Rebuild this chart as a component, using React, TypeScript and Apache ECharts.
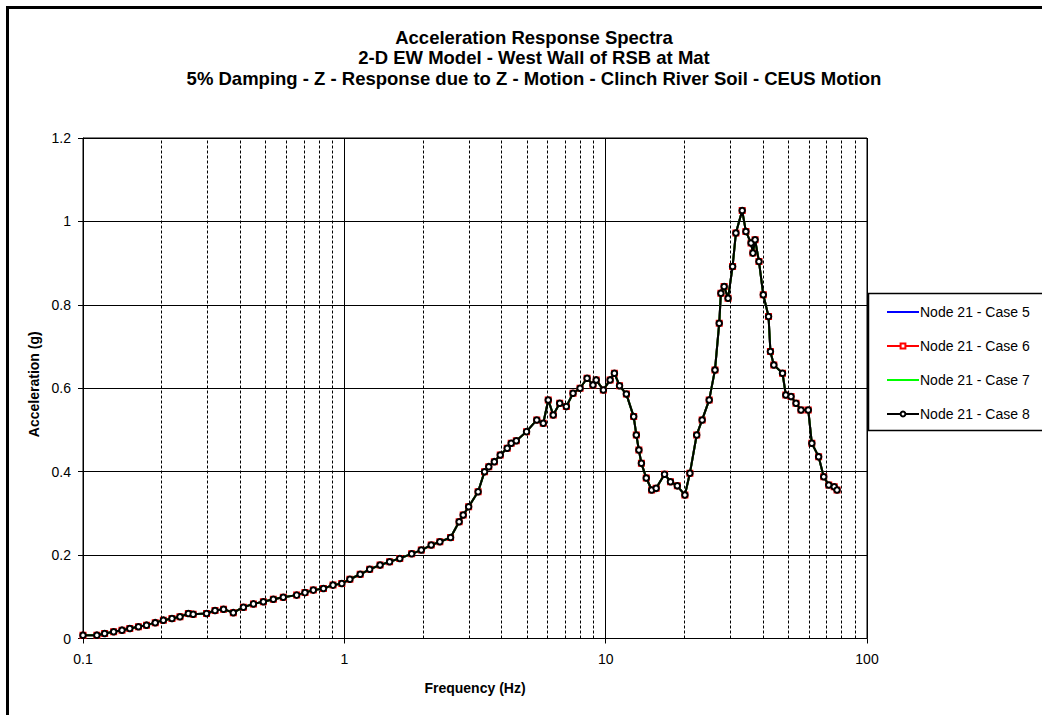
import React, { useEffect, useRef } from "react";
import * as echarts from "echarts";

const titleLines = [
  "Acceleration Response Spectra",
  "2-D EW Model - West Wall of RSB at Mat",
  "5% Damping - Z - Response due to Z - Motion - Clinch River Soil - CEUS Motion",
];
const xAxisName = "Frequency (Hz)";
const yAxisName = "Acceleration (g)";
const seriesNames = ["Node 21 - Case 5", "Node 21 - Case 6", "Node 21 - Case 7", "Node 21 - Case 8"];
const seriesColors = ["#0000ff", "#ff0000", "#00ff00", "#000000"];

// frequency (Hz)
const freqs = [
  0.1, 0.113, 0.121, 0.131, 0.141, 0.151, 0.163, 0.175, 0.189, 0.203, 0.219, 0.235, 0.253, 0.264,
  0.297, 0.32, 0.345, 0.376, 0.411, 0.449, 0.49, 0.535, 0.584, 0.657, 0.707, 0.761, 0.832, 0.905,
  0.978, 1.05, 1.15, 1.25, 1.37, 1.49, 1.63, 1.81, 1.97, 2.15, 2.32, 2.55, 2.75, 2.85, 2.99, 3.25,
  3.44, 3.57, 3.75, 3.95, 4.2, 4.35, 4.55, 4.98, 5.45, 5.77, 6.03, 6.3, 6.67, 7.07, 7.5, 7.98, 8.49,
  8.94, 9.2, 9.8, 10.4, 10.8, 11.3, 12.0, 12.8, 13.1, 13.4, 13.7, 14.3, 15.0, 15.6, 16.8, 17.7,
  18.8, 20.1, 21.0, 22.3, 23.4, 24.9, 26.2, 27.2, 27.6, 28.4, 29.4, 30.6, 31.5, 33.3, 34.4, 36.0,
  36.6, 37.3, 38.6, 40.1, 42.0, 42.7, 44.0, 47.5, 48.9, 51.2, 53.5, 55.9, 59.6, 61.5, 65.3, 68.3,
  71.4, 74.9, 76.8,
];
// acceleration (g), same for all four cases
const accel = [
  0.008, 0.008, 0.012, 0.016, 0.02, 0.024, 0.028, 0.032, 0.038, 0.044, 0.048, 0.052, 0.06, 0.058,
  0.06, 0.067, 0.07, 0.062, 0.075, 0.083, 0.088, 0.094, 0.099, 0.104, 0.11, 0.116, 0.12, 0.128,
  0.132, 0.142, 0.154, 0.166, 0.176, 0.184, 0.192, 0.203, 0.212, 0.224, 0.232, 0.242, 0.28, 0.296,
  0.316, 0.352, 0.4, 0.412, 0.424, 0.44, 0.456, 0.468, 0.474, 0.496, 0.524, 0.516, 0.572, 0.536,
  0.564, 0.556, 0.588, 0.6, 0.624, 0.608, 0.62, 0.596, 0.62, 0.636, 0.606, 0.586, 0.532, 0.488,
  0.452, 0.42, 0.385, 0.356, 0.36, 0.394, 0.376, 0.366, 0.344, 0.396, 0.488, 0.524, 0.572, 0.644,
  0.756, 0.828, 0.844, 0.816, 0.892, 0.972, 1.026, 0.976, 0.948, 0.924, 0.956, 0.904, 0.824, 0.772,
  0.688, 0.656, 0.636, 0.584, 0.58, 0.564, 0.548, 0.548, 0.468, 0.436, 0.388, 0.368, 0.364, 0.356,
];

const minorFreqLines = [
  0.2, 0.3, 0.4, 0.5, 0.6, 0.7, 0.8, 0.9, 2, 3, 4, 5, 6, 7, 8, 9, 20, 30, 40, 50, 60, 70, 80, 90,
];

const FONT = "'Liberation Sans', Arial, sans-serif";

export default function App() {
  const ref = useRef<HTMLDivElement>(null);

  useEffect(() => {
    if (!ref.current) return;
    const chart = echarts.init(ref.current, null, { renderer: "svg" });
    const data = freqs.map((f, i) => [f, accel[i]]);

    const symbols = ["circle", "emptyRect", "circle", "emptyCircle"];
    const sizes = [0, 5, 0, 5.5];

    const series: any[] = seriesNames.map((name, i) => ({
      name,
      type: "line",
      data,
      symbol: symbols[i],
      symbolSize: sizes[i],
      showSymbol: sizes[i] > 0,
      lineStyle: { color: seriesColors[i], width: 2 },
      itemStyle: { color: seriesColors[i], borderWidth: i === 3 ? 1.5 : 1 },
      z: 2 + i,
      silent: true,
    }));

    series[0].markLine = {
      silent: true,
      symbol: ["none", "none"],
      label: { show: false },
      lineStyle: { color: "#000", width: 1, type: [3, 2] },
      data: minorFreqLines.map((v) => ({ xAxis: v })),
    };

    chart.setOption({
      animation: false,
      backgroundColor: "#fff",
      textStyle: { fontFamily: FONT },
      title: {
        text: titleLines.join("\n"),
        left: 529,
        top: 22,
        textAlign: "center",
        textStyle: {
          fontFamily: FONT,
          fontSize: 18.5,
          fontWeight: "bold",
          color: "#000",
          lineHeight: 20.5,
        },
      },
      grid: {
        left: 83,
        top: 138,
        width: 784,
        height: 500.5,
        show: true,
        borderColor: "#000",
        borderWidth: 1,
        containLabel: false,
      },
      xAxis: {
        type: "log",
        logBase: 10,
        min: 0.1,
        max: 100,
        name: xAxisName,
        nameLocation: "middle",
        nameGap: 42,
        nameTextStyle: { fontFamily: FONT, fontSize: 14, fontWeight: "bold", color: "#000" },
        axisLine: { show: true, lineStyle: { color: "#000", width: 1 } },
        axisTick: { show: true, inside: false, length: 5, lineStyle: { color: "#000" } },
        axisLabel: {
          margin: 13,
          fontFamily: FONT,
          fontSize: 14,
          color: "#000",
          formatter: (v: number) => String(Math.round(v * 10) / 10),
        },
        splitLine: { show: true, lineStyle: { color: "#000", width: 1 } },
        minorTick: { show: false },
      },
      yAxis: {
        type: "value",
        min: 0,
        max: 1.2,
        interval: 0.2,
        name: yAxisName,
        nameLocation: "middle",
        nameRotate: 90,
        nameGap: 39,
        nameTextStyle: {
          fontFamily: FONT,
          fontSize: 14,
          fontWeight: "bold",
          color: "#000",
          padding: [0, 0, 0, 8],
        },
        axisLine: { show: true, lineStyle: { color: "#000", width: 1 } },
        axisTick: { show: true, inside: false, length: 5, lineStyle: { color: "#000" } },
        axisLabel: {
          margin: 12,
          fontFamily: FONT,
          fontSize: 14,
          color: "#000",
          formatter: (v: number) => String(Math.round(v * 10) / 10),
        },
        splitLine: { show: true, lineStyle: { color: "#000", width: 1 } },
      },
      legend: {
        orient: "vertical",
        left: 881,
        top: 300,
        itemWidth: 32,
        itemHeight: 6,
        itemGap: 20,
        selectedMode: false,
        textStyle: { fontFamily: FONT, fontSize: 14, color: "#000", padding: [0, 0, 0, -4] },
        data: seriesNames.map((name, i) =>
          sizes[i] > 0 ? { name } : { name, itemStyle: { opacity: 0 } }
        ),
      },
      graphic: [
        {
          type: "rect",
          shape: { x: 7.5, y: 7.5, width: 1100, height: 800 },
          style: { fill: "none", stroke: "#000", lineWidth: 3 },
          silent: true,
        },
        {
          type: "rect",
          shape: { x: 868.5, y: 293.5, width: 200, height: 137 },
          style: { fill: "none", stroke: "#000", lineWidth: 1.5 },
          silent: true,
        },
      ],
      series,
    });

    return () => chart.dispose();
  }, []);

  return (
    <div
      ref={ref}
      style={{ position: "absolute", left: 0, top: 0, width: 1042, height: 715, background: "#fff" }}
    />
  );
}
